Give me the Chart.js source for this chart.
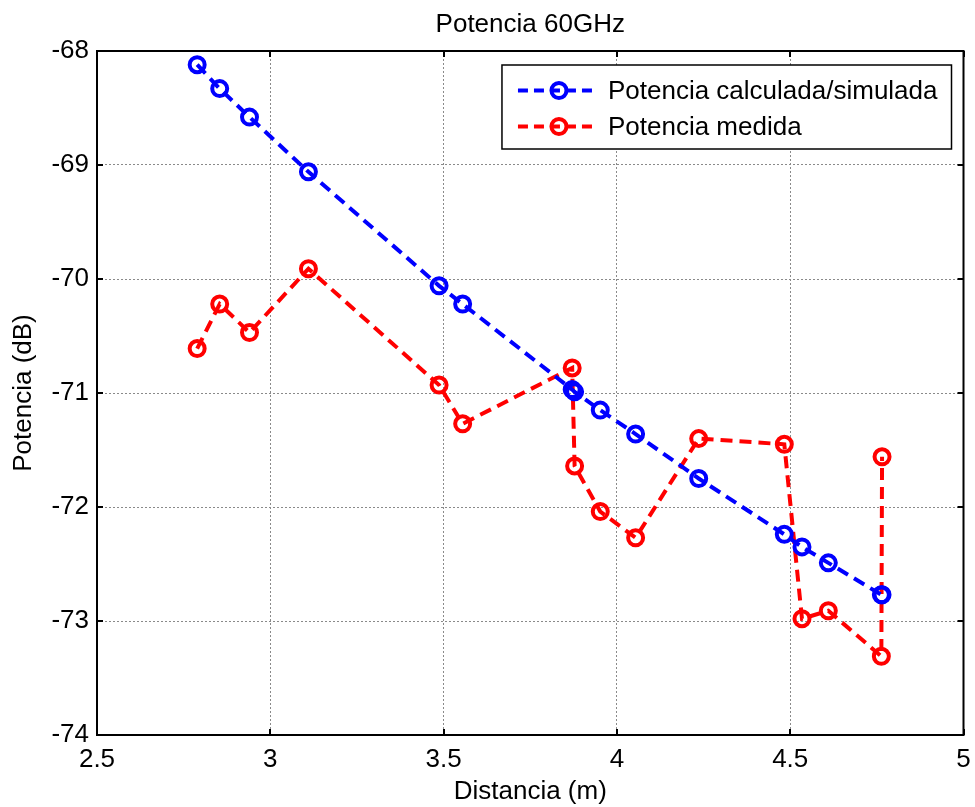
<!DOCTYPE html>
<html>
<head>
<meta charset="utf-8">
<title>Potencia 60GHz</title>
<script src="https://cdn.jsdelivr.net/npm/chart.js@4.4.1/dist/chart.umd.min.js"></script>
<style>
  html, body { margin: 0; padding: 0; background: #fff; }
  #wrap { width: 975px; height: 807px; }
</style>
</head>
<body>
<div id="wrap"><canvas id="potChart" width="975" height="807"></canvas></div>
<script>
// valores
const chartTitle = "Potencia 60GHz";
const distancia = [2.789, 2.854, 2.940, 3.110, 3.487, 3.555, 3.871, 3.878, 3.952, 4.054, 4.236, 4.483, 4.534, 4.610, 4.763, 4.765];
const potCalculada = [-68.12, -68.33, -68.58, -69.06, -70.06, -70.22, -70.97, -70.99, -71.15, -71.36, -71.75, -72.24, -72.35, -72.49, -72.77, -72.77];
const potMedida = [-70.61, -70.22, -70.47, -69.91, -70.93, -71.27, -70.78, -71.64, -72.04, -72.27, -71.40, -71.45, -72.98, -72.91, -73.31, -71.56];
const xTicks = [2.5, 3, 3.5, 4, 4.5, 5];
const yTicks = [-74, -73, -72, -71, -70, -69, -68];

const FONT = '"Liberation Sans", Arial, sans-serif';
const FSIZE = 26;
Chart.defaults.font.family = FONT;
Chart.defaults.font.size = FSIZE;
Chart.defaults.color = '#000';

const toPoints = (xs, ys) => xs.map((x, i) => ({ x: x, y: ys[i] }));

function serie(label, values, color) {
    return {
        label: label,
        data: toPoints(distancia, values),
        borderColor: color,
        borderWidth: 4,
        borderDash: [12, 7],
        pointStyle: 'circle',
        pointRadius: 7.5,
        pointHoverRadius: 7.5,
        pointBorderWidth: 4,
        pointBorderColor: color,
        pointBackgroundColor: 'rgba(0,0,0,0)',
        fill: false,
        tension: 0
    };
}

// caja tipo matlab: bordes, marcas hacia dentro, titulo y leyenda
const matlabBox = {
    id: 'matlabBox',
    afterDraw(chart) {
        const ctx = chart.ctx;
        const a = chart.chartArea;
        const xs = chart.scales.x, ys = chart.scales.y;
        const tl = 6;
        ctx.save();
        ctx.strokeStyle = '#000';
        ctx.lineWidth = 2;
        ctx.setLineDash([]);
        ctx.beginPath();
        xTicks.forEach(v => {
            const px = Math.round(xs.getPixelForValue(v));
            ctx.moveTo(px, a.bottom); ctx.lineTo(px, a.bottom - tl);
            ctx.moveTo(px, a.top); ctx.lineTo(px, a.top + tl);
        });
        yTicks.forEach(v => {
            const py = Math.round(ys.getPixelForValue(v));
            ctx.moveTo(a.left, py); ctx.lineTo(a.left + tl, py);
            ctx.moveTo(a.right, py); ctx.lineTo(a.right - tl, py);
        });
        ctx.stroke();
        ctx.lineWidth = 2;
        ctx.strokeRect(a.left, a.top, a.right - a.left, a.bottom - a.top);

        // titulo
        ctx.fillStyle = '#000';
        ctx.font = FSIZE + 'px ' + FONT;
        ctx.textAlign = 'center';
        ctx.textBaseline = 'alphabetic';
        ctx.fillText(chartTitle, (a.left + a.right) / 2, 32);

        // leyenda
        const sets = chart.data.datasets;
        const textW = Math.max(...sets.map(d => ctx.measureText(d.label).width));
        const boxW = 106 + textW + 14;
        const boxH = 84;
        const bx = a.right - 12 - boxW;
        const by = a.top + 14;
        ctx.fillStyle = '#fff';
        ctx.fillRect(bx, by, boxW, boxH);
        ctx.lineWidth = 1.5;
        ctx.strokeStyle = '#000';
        ctx.strokeRect(bx, by, boxW, boxH);
        sets.forEach((d, i) => {
            const ry = by + 25.5 + i * 36;
            ctx.strokeStyle = d.borderColor;
            ctx.lineWidth = 4;
            ctx.setLineDash([10, 6]);
            ctx.beginPath();
            ctx.moveTo(bx + 16, ry);
            ctx.lineTo(bx + 92, ry);
            ctx.stroke();
            ctx.setLineDash([]);
            ctx.beginPath();
            ctx.arc(bx + 57, ry, 7.5, 0, Math.PI * 2);
            ctx.stroke();
            ctx.fillStyle = '#000';
            ctx.textAlign = 'left';
            ctx.textBaseline = 'middle';
            ctx.fillText(d.label, bx + 106, ry + 1);
        });
        ctx.restore();
    }
};

new Chart(document.getElementById('potChart'), {
    type: 'line',
    data: {
        datasets: [
            serie('Potencia calculada/simulada', potCalculada, '#0000ff'),
            serie('Potencia medida', potMedida, '#ff0000')
        ]
    },
    options: {
        responsive: false,
        animation: false,
        layout: { padding: { left: 0, right: 9, top: 51, bottom: 0 } },
        plugins: {
            legend: { display: false },
            title: { display: false },
            tooltip: { enabled: false }
        },
        scales: {
            x: {
                type: 'linear',
                min: 2.5,
                max: 5,
                afterFit: s => { s.height = 72; s.paddingLeft = 0; s.paddingRight = 0; },
                afterBuildTicks: s => { s.ticks = xTicks.map(v => ({ value: v })); },
                ticks: { padding: 9, maxRotation: 0, color: '#000', callback: v => String(v) },
                grid: { color: '#8a8a8a', lineWidth: 1, drawTicks: false },
                border: { display: false, dash: [2, 2] },
                title: { display: true, text: 'Distancia (m)', padding: { top: 0, bottom: 0 }, color: '#000' }
            },
            y: {
                type: 'linear',
                min: -74,
                max: -68,
                afterFit: s => { s.width = 97; s.paddingTop = 0; s.paddingBottom = 0; },
                afterBuildTicks: s => { s.ticks = yTicks.map(v => ({ value: v })); },
                ticks: { padding: 8, color: '#000', callback: v => String(v) },
                grid: { color: '#8a8a8a', lineWidth: 1, drawTicks: false },
                border: { display: false, dash: [2, 2] },
                title: { display: true, text: 'Potencia (dB)', padding: { top: 8, bottom: 0 }, color: '#000' }
            }
        }
    },
    plugins: [matlabBox]
});
</script>
</body>
</html>
